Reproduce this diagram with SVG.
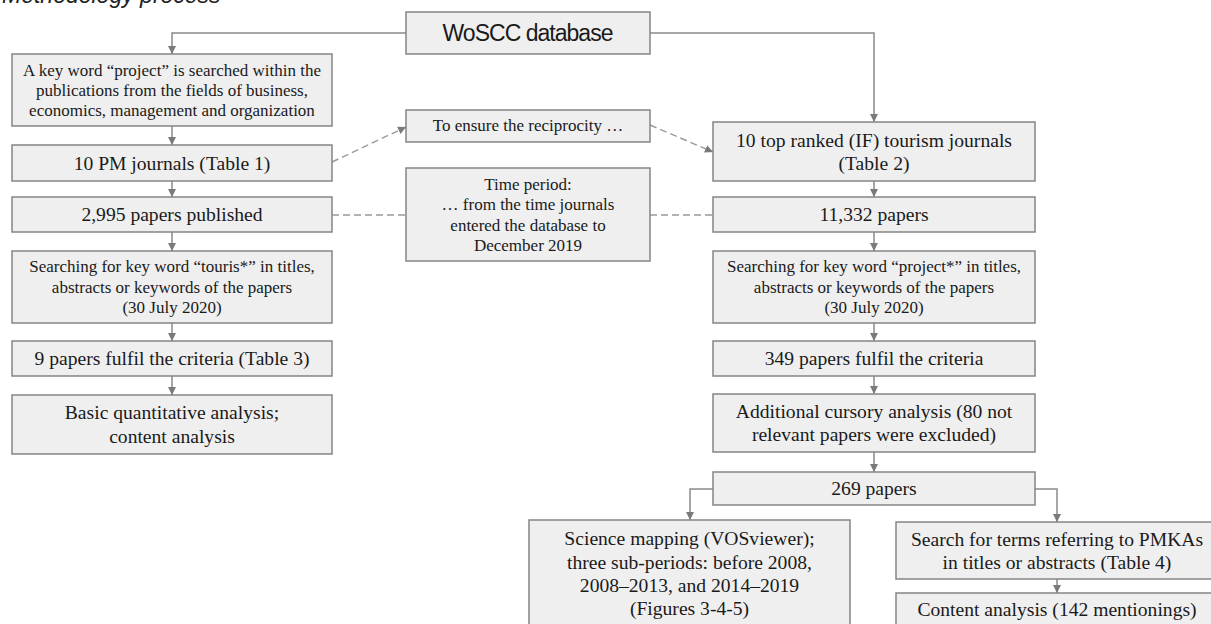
<svg xmlns="http://www.w3.org/2000/svg" width="1211" height="624" viewBox="0 0 1211 624">
<defs>
<style>
.box{fill:#efefef;stroke:#858585;stroke-width:1.5}
.t{font-family:"Liberation Serif","Times New Roman",serif;fill:#1a1a1a;text-anchor:middle}
.l{font-size:19.6px}
.s{font-size:17px}
.c{fill:none;stroke:#8a8a8a;stroke-width:1.5}
.d{fill:none;stroke:#9a9a9a;stroke-width:1.4;stroke-dasharray:7 4}
</style>
<marker id="a" viewBox="0 0 10 10" refX="10" refY="5" markerWidth="8" markerHeight="8" markerUnits="userSpaceOnUse" orient="auto">
<path d="M0,0 L10,5 L0,10 z" fill="#7a7a7a"/>
</marker>
</defs>
<rect width="1211" height="624" fill="#ffffff"/>
<text x="2" y="3" font-family="'Liberation Sans',Arial,sans-serif" font-style="italic" font-size="23" fill="#222">Methodology process</text>

<g id="connectors">
<path class="c" d="M406,33 H172 V54" marker-end="url(#a)"/>
<path class="c" d="M650,33 H874 V122" marker-end="url(#a)"/>
<path class="c" d="M172,126 V145" marker-end="url(#a)"/>
<path class="c" d="M172,181 V197" marker-end="url(#a)"/>
<path class="c" d="M172,232 V251" marker-end="url(#a)"/>
<path class="c" d="M172,323 V341" marker-end="url(#a)"/>
<path class="c" d="M172,376 V395" marker-end="url(#a)"/>
<path class="c" d="M874,181 V197" marker-end="url(#a)"/>
<path class="c" d="M874,232 V251" marker-end="url(#a)"/>
<path class="c" d="M874,323 V341" marker-end="url(#a)"/>
<path class="c" d="M874,376 V394" marker-end="url(#a)"/>
<path class="c" d="M874,452 V472" marker-end="url(#a)"/>
<path class="c" d="M713,489 H690 V520" marker-end="url(#a)"/>
<path class="c" d="M1035,489 H1057 V522" marker-end="url(#a)"/>
<path class="c" d="M1057,579 V593" marker-end="url(#a)"/>
<path class="d" d="M332,162 L406,127" marker-end="url(#a)"/>
<path class="d" d="M650,125 L713,152" marker-end="url(#a)"/>
<path class="d" d="M332,215 H406"/>
<path class="d" d="M650,215 H713"/>
</g>

<g id="woscc">
<rect class="box" x="406" y="12" width="244" height="42"/>
<text x="528" y="41" font-family="'Liberation Sans',Arial,sans-serif" font-size="23" fill="#1a1a1a" text-anchor="middle" textLength="171" lengthAdjust="spacing">WoSCC database</text>
</g>

<g id="keyword">
<rect class="box" x="12" y="54" width="320" height="72"/>
<text class="t s" x="172" y="76">A key word “project” is searched within the</text>
<text class="t s" x="172" y="96">publications from the fields of business,</text>
<text class="t s" x="172" y="116">economics, management and organization</text>
</g>

<g id="pm-journals">
<rect class="box" x="12" y="145" width="320" height="36"/>
<text class="t l" x="172" y="169.5">10 PM journals (Table 1)</text>
</g>

<g id="pm-papers">
<rect class="box" x="12" y="197" width="320" height="35"/>
<text class="t l" x="172" y="221">2,995 papers published</text>
</g>

<g id="pm-search">
<rect class="box" x="12" y="251" width="320" height="72"/>
<text class="t s" x="172" y="272">Searching for key word “touris*” in titles,</text>
<text class="t s" x="172" y="293">abstracts or keywords of the papers</text>
<text class="t s" x="172" y="313">(30 July 2020)</text>
</g>

<g id="pm-criteria">
<rect class="box" x="12" y="341" width="320" height="35"/>
<text class="t l" x="172" y="365">9 papers fulfil the criteria (Table 3)</text>
</g>

<g id="pm-analysis">
<rect class="box" x="12" y="395" width="320" height="59"/>
<text class="t l" x="172" y="419">Basic quantitative analysis;</text>
<text class="t l" x="172" y="443">content analysis</text>
</g>

<g id="reciprocity">
<rect class="box" x="406" y="110" width="244" height="32"/>
<text class="t s" x="528" y="131">To ensure the reciprocity …</text>
</g>

<g id="time-period">
<rect class="box" x="406" y="168" width="244" height="93"/>
<text class="t s" x="528" y="190">Time period:</text>
<text class="t s" x="528" y="210">… from the time journals</text>
<text class="t s" x="528" y="231">entered the database to</text>
<text class="t s" x="528" y="251">December 2019</text>
</g>

<g id="tourism-journals">
<rect class="box" x="713" y="122" width="322" height="59"/>
<text class="t l" x="874" y="147">10 top ranked (IF) tourism journals</text>
<text class="t l" x="874" y="169.5">(Table 2)</text>
</g>

<g id="tourism-papers">
<rect class="box" x="713" y="197" width="322" height="35"/>
<text class="t l" x="874" y="221">11,332 papers</text>
</g>

<g id="tourism-search">
<rect class="box" x="713" y="251" width="322" height="72"/>
<text class="t s" x="874" y="272">Searching for key word “project*” in titles,</text>
<text class="t s" x="874" y="293">abstracts or keywords of the papers</text>
<text class="t s" x="874" y="313">(30 July 2020)</text>
</g>

<g id="tourism-criteria">
<rect class="box" x="713" y="341" width="322" height="35"/>
<text class="t l" x="874" y="365">349 papers fulfil the criteria</text>
</g>

<g id="cursory">
<rect class="box" x="713" y="394" width="322" height="58"/>
<text class="t l" x="874" y="418">Additional cursory analysis (80 not</text>
<text class="t l" x="874" y="441">relevant papers were excluded)</text>
</g>

<g id="papers-269">
<rect class="box" x="713" y="472" width="322" height="33"/>
<text class="t l" x="874" y="495">269 papers</text>
</g>

<g id="science-mapping">
<rect class="box" x="529" y="520" width="321" height="120"/>
<text class="t l" x="689.5" y="545">Science mapping (VOSviewer);</text>
<text class="t l" x="689.5" y="568.5">three sub-periods: before 2008,</text>
<text class="t l" x="689.5" y="592">2008–2013, and 2014–2019</text>
<text class="t l" x="689.5" y="615">(Figures 3-4-5)</text>
</g>

<g id="pmka-search">
<rect class="box" x="896" y="522" width="322" height="57"/>
<text class="t l" x="1057" y="546">Search for terms referring to PMKAs</text>
<text class="t l" x="1057" y="569">in titles or abstracts (Table 4)</text>
</g>

<g id="content-analysis">
<rect class="box" x="896" y="593" width="322" height="47"/>
<text class="t l" x="1057" y="616">Content analysis (142 mentionings)</text>
</g>
</svg>
